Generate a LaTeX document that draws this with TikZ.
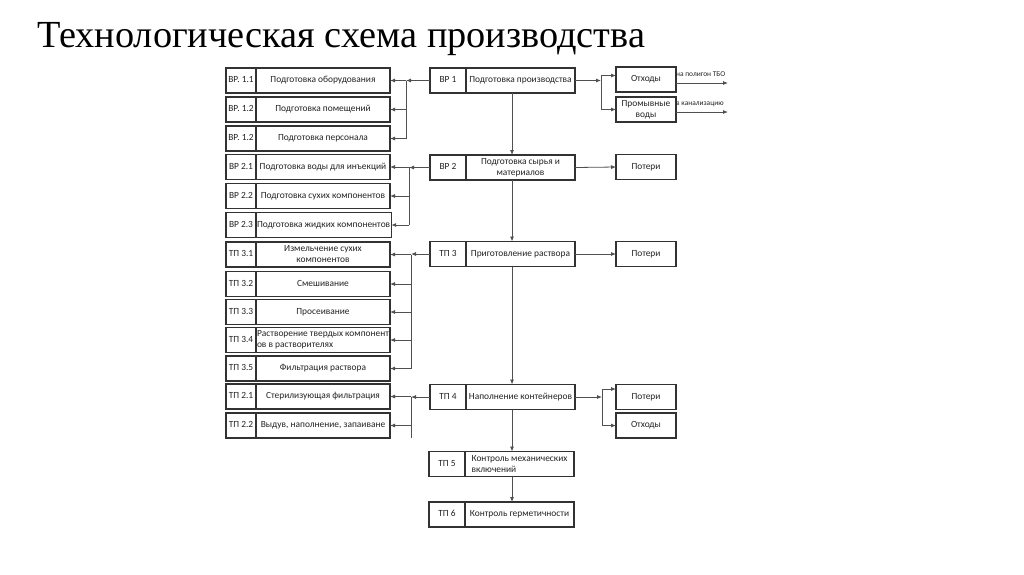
\documentclass[tikz,border=0pt]{standalone}
\usepackage{fontspec}
\setmainfont{Carlito}
\newfontfamily\titlefont{Liberation Serif}
\usepackage{xcolor}
\usepackage{tikz}
\usetikzlibrary{positioning,arrows.meta}
\definecolor{boxline}{RGB}{50,50,50}
\definecolor{wirecol}{RGB}{80,80,80}
\definecolor{ink}{RGB}{35,35,35}

\begin{document}
\begin{tikzpicture}[x=1pt,y=-1pt,
    box/.style={draw=boxline,line width=1.2pt,outer sep=0pt,inner sep=1pt,
      minimum height=25pt,align=center,text=ink,text height=6.5pt,text depth=2pt,
      font=\fontsize{9.4}{11}\selectfont},
    twoline/.style={text height={},text depth={}},
    tag/.style={box,minimum width=30pt},
    body/.style={box,minimum width=134pt},
    mtag/.style={box,minimum width=36pt},
    mbody/.style={box,minimum width=109pt},
    side/.style={box,minimum width=60pt},
    wire/.style={draw=wirecol,line width=0.8pt},
    arr/.style={wire,-{Latex[length=5pt,width=4pt]}},
    note/.style={text=ink,inner sep=0pt,font=\fontsize{7.4}{8}\selectfont}]
    \useasboundingbox[fill=white] (0,0) rectangle (1024,574);
    % Title
    \node[anchor=base west,inner sep=0pt,font=\titlefont\fontsize{38.3}{40}\selectfont]
      (title) at (37,47) {Технологическая схема производства};
    % Left column
    \node[tag] (bp11t) at (241,80.5) {ВР. 1.1};
    \node[body,right=0pt of bp11t] (bp11) {Подготовка оборудования};
    \node[tag] (bp12t) at (241,109.5) {ВР. 1.2};
    \node[body,right=0pt of bp12t] (bp12) {Подготовка помещений};
    \node[tag] (bp13t) at (241,138.5) {ВР. 1.2};
    \node[body,right=0pt of bp13t] (bp13) {Подготовка персонала};
    \node[tag] (bp21t) at (241,167) {ВР 2.1};
    \node[body,right=0pt of bp21t] (bp21) {Подготовка воды для инъекций};
    \node[tag] (bp22t) at (241,196) {ВР 2.2};
    \node[body,right=0pt of bp22t] (bp22) {Подготовка сухих компонентов};
    \node[tag] (bp23t) at (241,225) {ВР 2.3};
    \node[body,right=0pt of bp23t] (bp23) {Подготовка жидких компонентов};
    \node[tag] (tp31t) at (241,254.5) {ТП 3.1};
    \node[body,twoline,right=0pt of tp31t] (tp31) {Измельчение сухих\\компонентов};
    \node[tag] (tp32t) at (241,284) {ТП 3.2};
    \node[body,right=0pt of tp32t] (tp32) {Смешивание};
    \node[tag] (tp33t) at (241,312) {ТП 3.3};
    \node[body,right=0pt of tp33t] (tp33) {Просеивание};
    \node[tag] (tp34t) at (241,340) {ТП 3.4};
    \node[body,twoline,right=0pt of tp34t,align=left] (tp34) {Растворение твердых компонент\\ов в растворителях};
    \node[tag] (tp35t) at (241,368.5) {ТП 3.5};
    \node[body,right=0pt of tp35t] (tp35) {Фильтрация раствора};
    \node[tag] (tp21t) at (241,396.5) {ТП 2.1};
    \node[body,right=0pt of tp21t] (tp21) {Стерилизующая фильтрация};
    \node[tag] (tp22t) at (241,425.5) {ТП 2.2};
    \node[body,right=0pt of tp22t] (tp22) {Выдув, наполнение, запаиване};
    % Main column
    \node[mtag] (bp1t) at (448,80.5) {ВР 1};
    \node[mbody,right=0pt of bp1t] (bp1) {Подготовка производства};
    \node[mtag] (bp2t) at (448,167.5) {ВР 2};
    \node[mbody,twoline,right=0pt of bp2t] (bp2) {Подготовка сырья и\\материалов};
    \node[mtag] (tp3t) at (448,254) {ТП 3};
    \node[mbody,right=0pt of tp3t] (tp3) {Приготовление раствора};
    \node[mtag] (tp4t) at (448,397) {ТП 4};
    \node[mbody,right=0pt of tp4t] (tp4) {Наполнение контейнеров};
    \node[mtag] (tp5t) at (447,464) {ТП 5};
    \node[mbody,twoline,right=0pt of tp5t,align=left] (tp5) {Контроль механических\\включений};
    \node[mtag] (tp6t) at (447,514.5) {ТП 6};
    \node[mbody,right=0pt of tp6t] (tp6) {Контроль герметичности};
    % Right column
    \node[side] (wst1) at (646,79.5) {Отходы};
    \node[side,twoline] (rinse) at (646,109.5) {Промывные\\воды};
    \node[side] (loss1) at (646,167) {Потери};
    \node[side] (loss2) at (646,254) {Потери};
    \node[side] (loss3) at (646,397) {Потери};
    \node[side] (wst2) at (646,425.5) {Отходы};
    % Outlets
    \coordinate (tbo) at (728,83);
    \coordinate (sewer) at (728,112);
    \draw[arr] (wst1.east |- tbo) -- (tbo);
    \draw[arr] (rinse.east |- sewer) -- (sewer);
    \node[note,anchor=base west] (tbolbl) at (676,76.5) {на полигон ТБО};
    \node[note,anchor=base west] (sewerlbl) at (676,105.5) {в канализацию};
    % Spine
    \coordinate (spine) at (512,0);
    \draw[arr] (bp1.south -| spine) -- (bp2.north -| spine);
    \draw[arr] (bp2.south -| spine) -- (tp3.north -| spine);
    \draw[arr] (tp3.south -| spine) -- (tp4.north -| spine);
    \draw[arr] (tp4.south -| spine) -- (tp5.north -| spine);
    \draw[arr] (tp5.south -| spine) -- (tp6.north -| spine);
    % Left brackets
    \coordinate (br1) at (406,0);
    \draw[arr] (bp1t.west) -- (bp1t.west -| br1);
    \draw[wire] (br1 |- bp11.east) -- (br1 |- bp13.east);
    \draw[arr] (br1 |- bp11.east) -- (bp11.east);
    \draw[arr] (br1 |- bp12.east) -- (bp12.east);
    \draw[arr] (br1 |- bp13.east) -- (bp13.east);
    \coordinate (br2) at (409,0);
    \draw[arr] (bp2t.west) -- (bp2t.west -| br2);
    \draw[wire] (br2 |- bp21.east) -- (br2 |- bp23.east);
    \draw[arr] (br2 |- bp21.east) -- (bp21.east);
    \draw[arr] (br2 |- bp22.east) -- (bp22.east);
    \draw[arr] (br2 |- bp23.east) -- (bp23.east);
    \coordinate (br3) at (411,0);
    \draw[arr] (tp3t.west) -- (tp3t.west -| br3);
    \draw[wire] (br3 |- tp31.east) -- (br3 |- tp35.east);
    \draw[arr] (br3 |- tp31.east) -- (tp31.east);
    \draw[arr] (br3 |- tp32.east) -- (tp32.east);
    \draw[arr] (br3 |- tp33.east) -- (tp33.east);
    \draw[arr] (br3 |- tp34.east) -- (tp34.east);
    \draw[arr] (br3 |- tp35.east) -- (tp35.east);
    \coordinate (br4) at (411,0);
    \draw[arr] (tp4t.west) -- (tp4t.west -| br4);
    \draw[wire] (br4 |- tp21.east) -- (br4 |- tp22.south);
    \draw[arr] (br4 |- tp21.east) -- (tp21.east);
    \draw[arr] (br4 |- tp22.east) -- (tp22.east);
    % Right forks
    \coordinate (fk1) at (601,0);
    \coordinate (wst1in) at ([yshift=4pt]wst1.west);
    \draw[arr] (bp1.east) -- (bp1.east -| fk1);
    \draw[wire] (fk1 |- wst1in) -- (fk1 |- rinse.west);
    \draw[arr] (fk1 |- wst1in) -- (wst1in);
    \draw[arr] (fk1 |- rinse.west) -- (rinse.west);
    \draw[arr] (bp2.east) -- (loss1.west);
    \draw[arr] (tp3.east) -- (loss2.west);
    \coordinate (fk2) at (602,0);
    \coordinate (loss3in) at ([yshift=8pt]loss3.west);
    \draw[arr] (tp4.east) -- (tp4.east -| fk2);
    \draw[wire] (fk2 |- loss3in) -- (fk2 |- wst2.west);
    \draw[arr] (fk2 |- loss3in) -- (loss3in);
    \draw[arr] (fk2 |- wst2.west) -- (wst2.west);
\end{tikzpicture}
\end{document}
